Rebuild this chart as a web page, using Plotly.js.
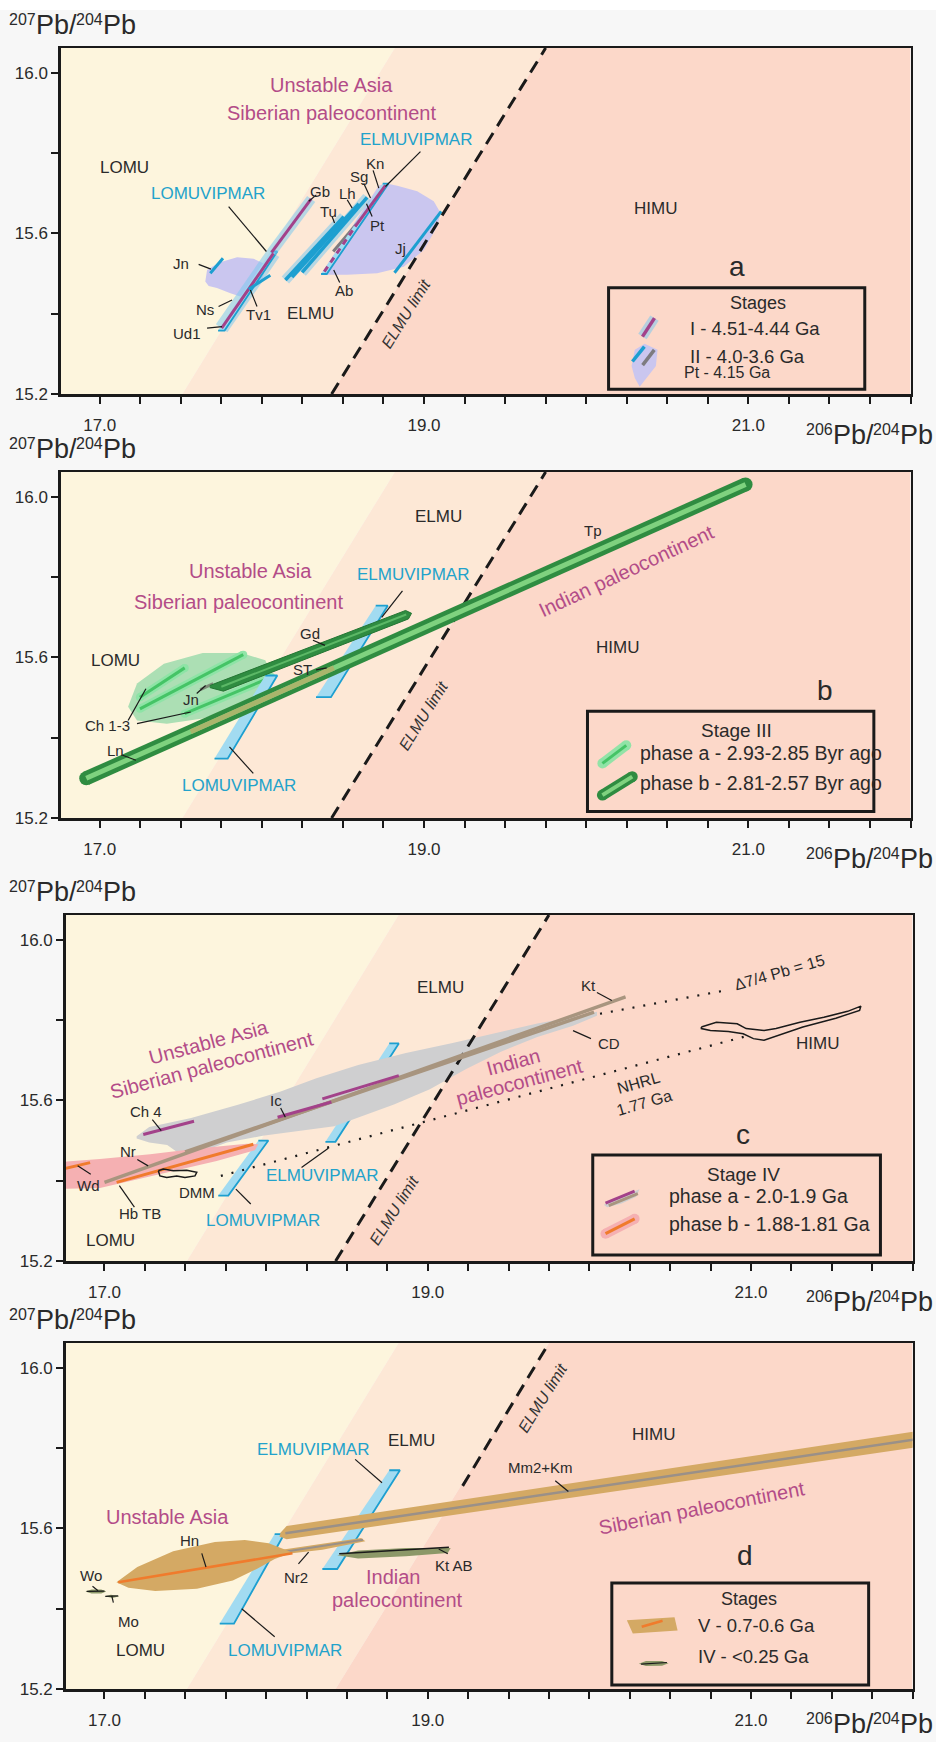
<!DOCTYPE html>
<html>
<head>
<meta charset="utf-8">
<script src="https://cdn.plot.ly/plotly-3.0.1.min.js"></script>
<style>
  html, body { margin: 0; padding: 0; background: #f7f7f7; }
  #chart { width: 936px; height: 1742px; }
</style>
</head>
<body>
<div id="chart"></div>
<script>
// ---------- axes ----------
const xTickVals = [17.0, 19.0, 21.0];
const xTickText = ['17.0', '19.0', '21.0'];
const xMinorStep = 0.25;
const yTickVals = [15.2, 15.6, 16.0];
const yTickText = ['15.2', '15.6', '16.0'];
const yMinorStep = 0.2;
const xRange = [16.76, 22.0];
const yRange = [15.2, 16.062];
// axis titles as (text, is-superscript) pieces
const xTitleParts = [['206', true], ['Pb/', false], ['204', true], ['Pb', false]];
const yTitleParts = [['207', true], ['Pb/', false], ['204', true], ['Pb', false]];

// ---------- mantle fields shared by all panels ----------
const zoneLomu = [[16.76, 15.2], [17.51, 15.2], [18.82, 16.062], [16.76, 16.062]];
const zoneElmu = [[17.51, 15.2], [18.43, 15.2], [19.75, 16.062], [18.82, 16.062]];
const zoneHimu = [[18.43, 15.2], [22.0, 15.2], [22.0, 16.062], [19.75, 16.062]];
const elmuLimit = [[18.43, 15.2], [19.75, 16.062]];
const elmuLimitD = [[19.216, 15.706], [19.75, 16.062]];

// ---------- panel a : stages I and II ----------
const aBlobLeft = [[17.651, 15.48], [17.662, 15.509], [17.733, 15.527], [17.847, 15.541], [17.949, 15.537],
  [18.028, 15.522], [18.001, 15.484], [17.939, 15.459], [17.867, 15.443], [17.806, 15.451], [17.723, 15.464], [17.672, 15.469]];
const aBlobRight = [[18.381, 15.497], [18.526, 15.497], [18.711, 15.501], [18.875, 15.517], [18.999, 15.559],
  [19.081, 15.617], [19.102, 15.651], [19.06, 15.68], [18.958, 15.705], [18.835, 15.719], [18.762, 15.725],
  [18.721, 15.719], [18.365, 15.499]];
const aLomuStrip = [[17.73, 15.358], [17.77, 15.358], [18.095, 15.555], [18.055, 15.555]];
const aLomuCore = [[17.752, 15.364], [18.072, 15.551]];
const aGb = [[18.06, 15.553], [18.304, 15.686]];
const aTv1 = [[17.919, 15.461], [18.052, 15.496]];
const aJn = [[17.682, 15.501], [17.760, 15.538]];
const aTu1 = [[18.145, 15.484], [18.505, 15.642]];
const aTu2 = [[18.186, 15.491], [18.598, 15.674]];
const aTu3 = [[18.248, 15.503], [18.649, 15.69]];
const aPt = [[18.44, 15.555], [18.66, 15.66]];
const aAbBand = [[18.365, 15.499], [18.40, 15.499], [18.78, 15.724], [18.745, 15.724]];
const aAbDash = [[18.385, 15.505], [18.56, 15.608]];
const aKn = [[18.575, 15.617], [18.762, 15.72]];
const aJj = [[18.818, 15.502], [19.106, 15.655]];
const aPointers = [
  [[17.795, 15.667], [18.028, 15.555]], [[18.978, 15.804], [18.762, 15.717]], [[18.336, 15.696], [18.289, 15.68]],
  [[18.526, 15.684], [18.557, 15.663]], [[18.433, 15.642], [18.448, 15.626]], [[18.628, 15.725], [18.670, 15.688]],
  [[18.686, 15.757], [18.721, 15.713]], [[18.645, 15.674], [18.68, 15.642]], [[18.443, 15.509], [18.48, 15.478]],
  [[17.733, 15.418], [17.816, 15.434]], [[17.662, 15.364], [17.754, 15.368]], [[17.97, 15.418], [17.929, 15.459]],
  [[17.61, 15.523], [17.686, 15.511]]];
const aTags = [['Kn', 18.70, 15.775], ['Sg', 18.60, 15.741], ['Gb', 18.36, 15.705], ['Lh', 18.53, 15.70],
  ['Tu', 18.413, 15.655], ['Pt', 18.711, 15.621], ['Jn', 17.50, 15.524], ['Jj', 18.855, 15.563],
  ['Ab', 18.505, 15.458], ['Ns', 17.651, 15.411], ['Tv1', 17.98, 15.397], ['Ud1', 17.54, 15.35]];
const aFields = [['LOMU', 17.15, 15.764], ['HIMU', 20.43, 15.661], ['ELMU', 18.30, 15.401]];
const aRegions = [['Unstable Asia', 18.43, 15.97], ['Siberian paleocontinent', 18.43, 15.90]];
const aRidges = [['ELMUVIPMAR', 18.95, 15.835], ['LOMUVIPMAR', 17.668, 15.70]];
const aLimitLabel = [['ELMU limit', 18.89, 15.40]];
const aLetter = [['a', 20.93, 15.517]];
const aLegBox = [[20.138, 15.212], [21.718, 15.465]];
const aLegTitle = [['Stages', 21.06, 15.427]];
const aLegItems = [['I - 4.51-4.44 Ga', 20.63, 15.364], ['II - 4.0-3.6 Ga', 20.63, 15.293]];
const aLegNote = [['Pt - 4.15 Ga', 20.59, 15.253]];
const aLegI = [[20.347, 15.343], [20.421, 15.389]];
const aLegIIBlob = [[20.28, 15.27], [20.30, 15.31], [20.36, 15.325], [20.44, 15.31], [20.43, 15.27],
  [20.38, 15.245], [20.33, 15.218], [20.30, 15.24]];
const aLegIICyan = [[20.285, 15.281], [20.359, 15.318]];
const aLegIIGray = [[20.348, 15.272], [20.42, 15.31]];

// ---------- panel b : stage III ----------
const bEllipse = [[17.175, 15.477], [17.23, 15.535], [17.396, 15.584], [17.635, 15.611], [17.874, 15.611],
  [18.021, 15.593], [18.058, 15.559], [18.003, 15.518], [17.855, 15.477], [17.635, 15.448], [17.414, 15.435], [17.23, 15.443]];
const bCh1 = [[17.248, 15.501], [17.524, 15.574]];
const bCh2 = [[17.248, 15.472], [17.885, 15.607]];
const bCh3 = [[17.524, 15.46], [18.058, 15.551]];
const bJn = [[17.62, 15.52], [17.70, 15.535]];
const bGdWedge = [[17.679, 15.530], [18.886, 15.717], [18.923, 15.71], [18.904, 15.696], [17.763, 15.516], [17.679, 15.525]];
const bGdStripe = [[17.75, 15.527], [18.89, 15.707]];
const bTube = [[16.917, 15.299], [20.983, 16.031]];
const bTubeOlive = [[17.561, 15.415], [18.444, 15.574]];
const bLomuBand = [[17.708, 15.348], [17.789, 15.348], [18.095, 15.555], [18.021, 15.555]];
const bElmuBand = [[18.334, 15.501], [18.426, 15.501], [18.776, 15.729], [18.702, 15.729]];
const bPointers = [
  [[18.315, 15.643], [18.389, 15.63]], [[18.334, 15.569], [18.40, 15.574]], [[17.598, 15.51], [17.653, 15.53]],
  [[17.175, 15.443], [17.285, 15.522]], [[17.23, 15.435], [17.561, 15.464]], [[17.138, 15.357], [17.223, 15.344]],
  [[17.947, 15.311], [17.80, 15.377]], [[18.867, 15.766], [18.739, 15.70]]];
const bTags = [['Tp', 20.045, 15.917], ['Gd', 18.297, 15.659], ['ST', 18.253, 15.569], ['Jn', 17.561, 15.495],
  ['Ch 1-3', 17.046, 15.431], ['Ln', 17.10, 15.369]];
const bFields = [['ELMU', 19.088, 15.95], ['LOMU', 17.10, 15.593], ['HIMU', 20.192, 15.626]];
const bRegions = [['Unstable Asia', 17.929, 15.816], ['Siberian paleocontinent', 17.856, 15.737]];
const bIndian = [['Indian paleocontinent', 20.247, 15.816]];
const bRidges = [['ELMUVIPMAR', 18.934, 15.806], ['LOMUVIPMAR', 17.856, 15.282]];
const bLimitLabel = [['ELMU limit', 18.996, 15.456]];
const bLetter = [['b', 21.47, 15.518]];
const bLegBox = [[20.008, 15.216], [21.774, 15.466]];
const bLegTitle = [['Stage III', 20.928, 15.419]];
const bLegItems = [['phase a - 2.93-2.85 Byr ago', 20.32, 15.362], ['phase b - 2.81-2.57 Byr ago', 20.32, 15.286]];
const bLegA = [[20.10, 15.336], [20.247, 15.381]];
const bLegB = [[20.10, 15.257], [20.284, 15.303]];

// ---------- panel c : stage IV ----------
const cLomuBand = [[17.704, 15.363], [17.766, 15.363], [18.014, 15.50], [17.952, 15.50]];
const cElmuBand = [[18.367, 15.497], [18.429, 15.497], [18.821, 15.742], [18.762, 15.742]];
const cGrayField = [[17.199, 15.511], [17.277, 15.534], [17.536, 15.556], [17.831, 15.59], [18.09, 15.622],
  [18.311, 15.655], [18.57, 15.688], [18.865, 15.718], [19.161, 15.744], [19.456, 15.772], [19.678, 15.792],
  [19.899, 15.808], [20.047, 15.821], [20.047, 15.811], [19.899, 15.786], [19.678, 15.758], [19.456, 15.722],
  [19.235, 15.678], [19.013, 15.628], [18.791, 15.59], [18.57, 15.558], [18.422, 15.536], [18.2, 15.524],
  [17.979, 15.512], [17.757, 15.495], [17.536, 15.462], [17.351, 15.437], [17.166, 15.412], [16.993, 15.393],
  [17.111, 15.415], [17.314, 15.446], [17.462, 15.468], [17.388, 15.489], [17.277, 15.495], [17.199, 15.505]];
const cPinkField = [[16.559, 15.412], [16.766, 15.448], [16.972, 15.454], [17.282, 15.466], [17.591, 15.481],
  [17.88, 15.492], [17.952, 15.491], [17.931, 15.476], [17.694, 15.449], [17.385, 15.42], [17.178, 15.40],
  [16.972, 15.382], [16.766, 15.38], [16.601, 15.392]];
const cKt = [[17.0, 15.396], [20.224, 15.858]];
const cCD = [[17.499, 15.472], [20.029, 15.82]];
const cIc1 = [[18.071, 15.558], [18.404, 15.596]];
const cIc2 = [[18.348, 15.604], [18.821, 15.662]];
const cCh4 = [[17.24, 15.515], [17.554, 15.548]];
const cHbTB = [[17.075, 15.396], [17.921, 15.491]];
const cWd = [[16.601, 15.416], [16.911, 15.445]];
const cNHRL = [[17.72, 15.412], [20.989, 15.762]];
const cD74 = [[20.066, 15.816], [20.841, 15.874]];
const cHimu = [[20.693, 15.783], [20.786, 15.795], [20.915, 15.791], [20.97, 15.779], [21.081, 15.774],
  [21.155, 15.779], [21.303, 15.795], [21.451, 15.807], [21.598, 15.822], [21.68, 15.835], [21.672, 15.824],
  [21.525, 15.805], [21.321, 15.783], [21.155, 15.76], [21.081, 15.75], [21.015, 15.754], [20.952, 15.766],
  [20.86, 15.772], [20.749, 15.774], [20.693, 15.779]];
const cDmm = [[17.333, 15.425], [17.364, 15.429], [17.426, 15.425], [17.509, 15.426], [17.571, 15.421],
  [17.56, 15.412], [17.498, 15.408], [17.447, 15.412], [17.385, 15.408], [17.343, 15.412]];
const cPointers = [
  [[20.047, 15.869], [20.139, 15.849]], [[19.899, 15.774], [20.01, 15.754]], [[17.296, 15.552], [17.351, 15.525]],
  [[18.09, 15.581], [18.119, 15.558]], [[17.203, 15.453], [17.27, 15.437]], [[16.834, 15.437], [16.915, 15.416]],
  [[17.185, 15.334], [17.092, 15.388]], [[17.905, 15.342], [17.813, 15.379]], [[18.219, 15.433], [18.385, 15.481]]];
const cTags = [['Kt', 19.992, 15.886], ['CD', 20.121, 15.742], ['Ch 4', 17.259, 15.573], ['Ic', 18.06, 15.599],
  ['Nr', 17.148, 15.474], ['Wd', 16.9, 15.388], ['DMM', 17.572, 15.371], ['Hb TB', 17.222, 15.318]];
const cFields = [['ELMU', 19.079, 15.881], ['HIMU', 21.414, 15.742], ['LOMU', 17.037, 15.252]];
const cRegions = [['Unstable Asia', 17.646, 15.746], ['Siberian paleocontinent', 17.665, 15.688],
  ['Indian', 19.53, 15.696], ['paleocontinent', 19.567, 15.647]];
const cRefLines = [['\u03947/4 Pb = 15', 21.174, 15.919], ['NHRL<br>1.77 Ga', 20.32, 15.618]];
const cRidges = [['LOMUVIPMAR', 17.979, 15.301], ['ELMUVIPMAR', 18.348, 15.412]];
const cLimitLabel = [['ELMU limit', 18.791, 15.326]];
const cLetter = [['c', 20.952, 15.514]];
const cLegBox = [[20.021, 15.215], [21.801, 15.464]];
const cLegTitle = [['Stage IV', 20.952, 15.416]];
const cLegItems = [['phase a - 2.0-1.9 Ga', 20.483, 15.363], ['phase b - 1.88-1.81 Ga', 20.483, 15.293]];
const cLegABlob = [[20.09, 15.34], [20.15, 15.352], [20.27, 15.372], [20.31, 15.379], [20.29, 15.36], [20.2, 15.343], [20.11, 15.334]];
const cLegAPurple = [[20.10, 15.344], [20.28, 15.374]];
const cLegATan = [[20.12, 15.338], [20.30, 15.368]];
const cLegB = [[20.10, 15.268], [20.28, 15.305]];

// ---------- panel d : stages IV and V ----------
const dLomuBand = [[17.713, 15.363], [17.801, 15.363], [18.112, 15.586], [18.053, 15.586]];
const dElmuBand = [[18.348, 15.499], [18.44, 15.499], [18.828, 15.745], [18.762, 15.745]];
const dMmBand = [[18.09, 15.59], [18.127, 15.606], [22.005, 15.841], [22.005, 15.801], [18.127, 15.573], [18.082, 15.58]];
const dMmCore = [[18.119, 15.588], [22.005, 15.821]];
const dNr2Band = [[18.034, 15.543], [18.274, 15.557], [18.588, 15.576], [18.614, 15.568], [18.348, 15.547], [18.053, 15.533]];
const dNr2Core = [[18.053, 15.538], [18.599, 15.572]];
const dHnLens = [[17.074, 15.466], [17.203, 15.504], [17.425, 15.543], [17.683, 15.566], [17.868, 15.571],
  [18.016, 15.563], [18.163, 15.54], [18.053, 15.524], [17.942, 15.499], [17.794, 15.47], [17.572, 15.45],
  [17.314, 15.444], [17.148, 15.452]];
const dHnLine = [[17.085, 15.466], [18.163, 15.538]];
const dKtAB = [[18.44, 15.533], [18.569, 15.545], [18.865, 15.551], [19.142, 15.551], [19.124, 15.539], [18.865, 15.531], [18.569, 15.525]];
const dKtABLine = [[18.452, 15.537], [19.131, 15.553]];
const dWo = [[16.882, 15.443], [16.92, 15.448], [16.98, 15.448], [17.011, 15.443], [16.98, 15.438], [16.92, 15.438]];
const dWoLine = [[16.89, 15.443], [17.0, 15.444]];
const dMo = [[17.0, 15.431], [17.04, 15.435], [17.092, 15.431], [17.05, 15.427]];
const dMoLine = [[17.005, 15.431], [17.085, 15.432]];
const dPointers = [
  [[18.551, 15.772], [18.717, 15.714]], [[18.053, 15.33], [17.849, 15.40]], [[19.789, 15.719], [19.87, 15.692]],
  [[17.602, 15.538], [17.628, 15.504]], [[18.20, 15.512], [18.263, 15.541]], [[19.068, 15.549], [19.124, 15.537]],
  [[16.926, 15.456], [16.96, 15.445]], [[17.055, 15.415], [17.045, 15.432]]];
const dTags = [['Mm2+Km', 19.696, 15.753], ['Hn', 17.528, 15.57], ['Nr2', 18.182, 15.479], ['Kt AB', 19.161, 15.508],
  ['Wo', 16.915, 15.483], ['Mo', 17.148, 15.367]];
const dFields = [['HIMU', 20.398, 15.834], ['ELMU', 18.902, 15.82], ['LOMU', 17.222, 15.297]];
const dRegions = [['Unstable Asia', 17.388, 15.628], ['Indian', 18.791, 15.479], ['paleocontinent', 18.81, 15.421]];
const dSiberian = [['Siberian paleocontinent', 20.693, 15.652]];
const dRidges = [['ELMUVIPMAR', 18.293, 15.797], ['LOMUVIPMAR', 18.119, 15.297]];
const dLimitLabel = [['ELMU limit', 19.715, 15.925]];
const dLetter = [['d', 20.963, 15.533]];
const dLegBox = [[20.139, 15.21], [21.728, 15.464]];
const dLegTitle = [['Stages', 20.989, 15.425]];
const dLegItems = [['V - 0.7-0.6 Ga', 20.657, 15.359], ['IV - <0.25 Ga', 20.657, 15.282]];
const dLegV = [[20.232, 15.371], [20.527, 15.379], [20.546, 15.346], [20.269, 15.338]];
const dLegVLine = [[20.324, 15.355], [20.453, 15.37]];
const dLegIV = [[20.306, 15.263], [20.35, 15.27], [20.45, 15.27], [20.49, 15.264], [20.45, 15.258], [20.35, 15.257]];
const dLegIVLine = [[20.32, 15.262], [20.48, 15.266]];

// ---------- styling ----------
const FONT = 'Liberation Sans, Arial, Helvetica, sans-serif';
const INK = '#1a1a1a';
const TXT = '#2a2a2a';
const C = {
  lomu: '#fdf5dd', elmu: '#fde8d6', himu: '#fcd8c9',
  magenta: '#a3428a', magentaText: '#b34c88',
  cyan: '#1d9fd0', cyanText: '#22a2cb', cyanFill: '#a2dbf1', cyanHalo: 'rgba(125,200,238,0.55)',
  lavender: '#cac6ef', gray: '#cfcfd0', pink: '#f5b0b2', orange: '#f07b2c',
  tan: '#d4a964', taupe: '#a8957f', olive: '#8c9868',
  greenDark: '#2f8c41', greenLight: '#7fd27f', greenPhaseA: '#45c466', greenHalo: 'rgba(140,228,165,0.95)',
  greenField: '#acdfb4', oliveStripe: '#a9b56c'
};
const SZ = {tag: 15, field: 17, region: 20, ridge: 17, limit: 16, letter: 28, title: 27, titleSup: 16};
// Liberation Sans advance widths (em) for the glyphs used in the axis titles
const ADV = {'0': 0.556, '2': 0.556, '4': 0.556, '6': 0.556, '7': 0.556, 'P': 0.667, 'b': 0.556, '/': 0.278};

const traces = [], annotations = [], shapes = [];
function ax(k) { return k === 1 ? ['x', 'y'] : ['x' + k, 'y' + k]; }
function xs(p) { return p.map(q => q[0]); }
function ys(p) { return p.map(q => q[1]); }
function area(k, pts, fill, edge, ew) {
  const [xa, ya] = ax(k);
  traces.push({type: 'scatter', mode: 'lines', xaxis: xa, yaxis: ya, x: xs(pts), y: ys(pts),
    fill: 'toself', fillcolor: fill, line: {color: edge || fill, width: edge ? ew : 0}, hoverinfo: 'skip'});
}
function path(k, pts, color, width, dash, caps) {
  const [xa, ya] = ax(k);
  const t = {type: 'scatter', mode: caps ? 'lines+markers' : 'lines', xaxis: xa, yaxis: ya,
    x: xs(pts), y: ys(pts), line: {color: color, width: width, dash: dash || 'solid'}, hoverinfo: 'skip'};
  if (caps) t.marker = {size: width, color: color, line: {width: 0}};
  traces.push(t);
}
function ring(k, pts, color, width) { path(k, pts.concat([pts[0]]), color, width); }
function segs(k, list, color, width) {
  const x = [], y = [];
  list.forEach(s => { x.push(s[0][0], s[1][0], null); y.push(s[0][1], s[1][1], null); });
  const [xa, ya] = ax(k);
  traces.push({type: 'scatter', mode: 'lines', xaxis: xa, yaxis: ya, x: x, y: y,
    line: {color: color, width: width}, hoverinfo: 'skip'});
}
function text(k, list, size, color, extra) {
  const [xa, ya] = ax(k);
  list.forEach(t => {
    annotations.push(Object.assign({xref: xa, yref: ya, x: t[1], y: t[2], text: t[0], showarrow: false,
      font: {family: FONT, size: size, color: color}}, extra || {}));
  });
}
function box(k, b) {
  const [xa, ya] = ax(k);
  shapes.push({type: 'rect', xref: xa, yref: ya, x0: b[0][0], y0: b[0][1], x1: b[1][0], y1: b[1][1],
    line: {color: INK, width: 3}, layer: 'above'});
}
function fields(k) {
  area(k, zoneLomu, C.lomu);
  area(k, zoneElmu, C.elmu);
  area(k, zoneHimu, C.himu);
}
function ridge(k, band) { area(k, band, C.cyanFill, C.cyan, 1.8); }
function limitLine(k, pts) { path(k, pts, INK, 3, '13px,8px'); }
function limitText(k, list) {
  text(k, list, SZ.limit, '#333', {textangle: -58, font: {family: FONT, size: SZ.limit, color: '#333', style: 'italic'}});
}
// isotope-ratio title set piece by piece, superscripts raised above the baseline
function isoTitle(parts, edgePx, baselinePx, alignRight) {
  const W = 936, H = 1742;
  const widths = parts.map(p => {
    const s = p[1] ? SZ.titleSup : SZ.title;
    return p[0].split('').reduce((a, ch) => a + (ADV[ch] || 0.556) * s, 0);
  });
  let left = alignRight ? edgePx - widths.reduce((a, b) => a + b, 0) : edgePx;
  parts.forEach((p, i) => {
    const s = p[1] ? SZ.titleSup : SZ.title;
    const base = p[1] ? baselinePx - 9 : baselinePx;
    annotations.push({xref: 'paper', yref: 'paper', x: (left - 1) / W, y: 1 - (base - 0.35 * s) / H,
      xanchor: 'left', yanchor: 'middle', showarrow: false, text: p[0], borderpad: 0,
      font: {family: FONT, size: s, color: TXT}});
    left += widths[i];
  });
}

// ---------- panel a ----------
fields(1);
area(1, aBlobLeft, C.lavender);
area(1, aBlobRight, C.lavender);
path(1, aLomuCore, C.cyanHalo, 14);
ridge(1, aLomuStrip);
path(1, aLomuCore, C.magenta, 3);
path(1, aGb, C.cyanHalo, 10);
path(1, aGb, C.magenta, 3);
path(1, aTv1, C.cyan, 3);
path(1, aJn, C.cyan, 3);
path(1, aTu1, C.cyanHalo, 10);
path(1, aTu3, C.cyanHalo, 10);
path(1, aTu1, C.cyan, 3.5);
path(1, aTu2, C.cyan, 3.5);
path(1, aTu3, C.cyan, 3.5);
path(1, aPt, '#7d7b80', 3);
ridge(1, aAbBand);
path(1, aAbDash, C.magenta, 3, '6px,5px');
path(1, aKn, C.magenta, 3);
path(1, aJj, C.cyan, 3);
limitLine(1, elmuLimit);
segs(1, aPointers, INK, 1.2);
area(1, aLegIIBlob, C.lavender);
path(1, aLegI, C.cyanHalo, 10);
path(1, aLegI, C.magenta, 3.5);
path(1, aLegIICyan, C.cyan, 3.5);
path(1, aLegIIGray, '#7d7b80', 3.5);
box(1, aLegBox);
text(1, aTags, SZ.tag, TXT);
text(1, aFields, SZ.field, TXT);
text(1, aRegions, SZ.region, C.magentaText);
text(1, aRidges, SZ.ridge, C.cyanText);
limitText(1, aLimitLabel);
text(1, aLetter, SZ.letter, TXT);
text(1, aLegTitle, 18, TXT);
text(1, aLegItems, 18.5, TXT, {xanchor: 'left'});
text(1, aLegNote, 16, TXT, {xanchor: 'left'});

// ---------- panel b ----------
fields(2);
limitLine(2, elmuLimit);
area(2, bEllipse, C.greenField);
[bCh1, bCh2, bCh3].forEach(l => path(2, l, C.greenHalo, 8, null, true));
[bCh1, bCh2, bCh3].forEach(l => path(2, l, C.greenPhaseA, 3));
path(2, bJn, '#7e8a78', 3);
ridge(2, bLomuBand);
ridge(2, bElmuBand);
area(2, bGdWedge, C.greenDark, '#247533', 1);
path(2, bGdStripe, '#5cb866', 2);
path(2, bTube, C.greenDark, 14, null, true);
path(2, bTube, C.greenLight, 5);
path(2, bTubeOlive, C.oliveStripe, 5);
segs(2, bPointers, INK, 1.2);
path(2, bLegA, C.greenHalo, 10, null, true);
path(2, bLegA, C.greenPhaseA, 3);
path(2, bLegB, C.greenDark, 11, null, true);
path(2, bLegB, C.greenLight, 4);
box(2, bLegBox);
text(2, bTags, SZ.tag, TXT);
text(2, bFields, SZ.field, TXT);
text(2, bRegions, SZ.region, C.magentaText);
text(2, bIndian, SZ.region, C.magentaText, {textangle: -25});
text(2, bRidges, SZ.ridge, C.cyanText);
limitText(2, bLimitLabel);
text(2, bLetter, SZ.letter, TXT);
text(2, bLegTitle, 19, TXT);
text(2, bLegItems, 19.5, TXT, {xanchor: 'left'});

// ---------- panel c ----------
fields(3);
ridge(3, cLomuBand);
ridge(3, cElmuBand);
area(3, cGrayField, C.gray);
area(3, cPinkField, C.pink);
limitLine(3, elmuLimit);
path(3, cNHRL, INK, 2.2, '2px,9px');
path(3, cD74, INK, 2.2, '2px,9px');
path(3, cKt, C.taupe, 3.5);
path(3, cCD, C.taupe, 3.5);
path(3, cIc1, C.magenta, 3);
path(3, cIc2, C.magenta, 3);
path(3, cCh4, C.magenta, 3);
path(3, cHbTB, C.orange, 3);
path(3, cWd, C.orange, 3);
ring(3, cHimu, INK, 1.5);
ring(3, cDmm, INK, 1.5);
segs(3, cPointers, INK, 1.2);
area(3, cLegABlob, C.gray);
path(3, cLegAPurple, C.magenta, 3);
path(3, cLegATan, C.taupe, 3);
path(3, cLegB, C.pink, 10, null, true);
path(3, cLegB, C.orange, 3);
box(3, cLegBox);
text(3, cTags, SZ.tag, TXT);
text(3, cFields, SZ.field, TXT);
text(3, cRegions, SZ.region, C.magentaText, {textangle: -15});
text(3, cRefLines, 16, TXT, {textangle: -16});
text(3, cRidges, SZ.ridge, C.cyanText);
limitText(3, cLimitLabel);
text(3, cLetter, SZ.letter, TXT);
text(3, cLegTitle, 19, TXT);
text(3, cLegItems, 19.5, TXT, {xanchor: 'left'});

// ---------- panel d ----------
fields(4);
limitLine(4, elmuLimitD);
ridge(4, dLomuBand);
ridge(4, dElmuBand);
area(4, dMmBand, C.tan);
path(4, dMmCore, '#9a9088', 2.5);
area(4, dNr2Band, C.tan);
path(4, dNr2Core, '#9a9088', 2);
area(4, dHnLens, C.tan);
path(4, dHnLine, C.orange, 2.5);
area(4, dKtAB, C.olive);
path(4, dKtABLine, INK, 1.5);
area(4, dWo, C.olive);
path(4, dWoLine, INK, 1.2);
area(4, dMo, C.olive);
path(4, dMoLine, INK, 1.2);
segs(4, dPointers, INK, 1.2);
area(4, dLegV, C.tan);
path(4, dLegVLine, C.orange, 2.5);
area(4, dLegIV, C.olive);
path(4, dLegIVLine, INK, 1.2);
box(4, dLegBox);
text(4, dTags, SZ.tag, TXT);
text(4, dFields, SZ.field, TXT);
text(4, dRegions, SZ.region, C.magentaText);
text(4, dSiberian, SZ.region, C.magentaText, {textangle: -11});
text(4, dRidges, SZ.ridge, C.cyanText);
limitText(4, dLimitLabel);
text(4, dLetter, SZ.letter, TXT);
text(4, dLegTitle, 18, TXT);
text(4, dLegItems, 18.5, TXT, {xanchor: 'left'});

// ---------- layout ----------
const H = 1742;
const frameTop = [48, 472, 915, 1343];
const frameBottom = [394, 818, 1261, 1689];
const domX = [[0.06496, 0.97276], [0.06496, 0.97276], [0.07019, 0.975], [0.07019, 0.975]];
const layout = {
  width: 936, height: H, margin: {l: 0, r: 0, t: 0, b: 0},
  paper_bgcolor: '#f7f7f7', plot_bgcolor: 'rgba(0,0,0,0)', showlegend: false,
  annotations: annotations, shapes: shapes
};
shapes.push({type: 'rect', xref: 'paper', yref: 'paper', x0: 0, x1: 1, y0: 1 - 10 / H, y1: 1,
  fillcolor: '#ffffff', line: {width: 0}, layer: 'below'});
const tickStyle = {ticks: 'outside', ticklen: 7, tickwidth: 2, tickcolor: INK};
for (let k = 1; k <= 4; k++) {
  const sx = k === 1 ? '' : String(k);
  const common = Object.assign({showline: true, linewidth: 2.5, linecolor: INK, mirror: true,
    showgrid: false, zeroline: false, fixedrange: true,
    tickfont: {family: FONT, size: 17, color: TXT}, tickmode: 'array'}, tickStyle);
  layout['xaxis' + sx] = Object.assign({}, common, {domain: domX[k - 1], range: xRange, anchor: 'y' + sx,
    tickvals: xTickVals, ticktext: xTickText, ticklabelstandoff: 7,
    minor: Object.assign({tickmode: 'linear', tick0: xTickVals[0], dtick: xMinorStep, showgrid: false}, tickStyle)});
  layout['yaxis' + sx] = Object.assign({}, common, {
    domain: [1 - frameBottom[k - 1] / H, 1 - frameTop[k - 1] / H], range: yRange, anchor: 'x' + sx,
    tickvals: yTickVals, ticktext: yTickText,
    minor: Object.assign({tickmode: 'linear', tick0: yTickVals[0], dtick: yMinorStep, showgrid: false}, tickStyle)});
  isoTitle(yTitleParts, 9, frameTop[k - 1] - 14, false);
  isoTitle(xTitleParts, 933, Math.min(frameBottom[k - 1] + 50, H - 9), true);
}

Plotly.newPlot('chart', traces, layout, {staticPlot: true, displayModeBar: false});
</script>
</body>
</html>
